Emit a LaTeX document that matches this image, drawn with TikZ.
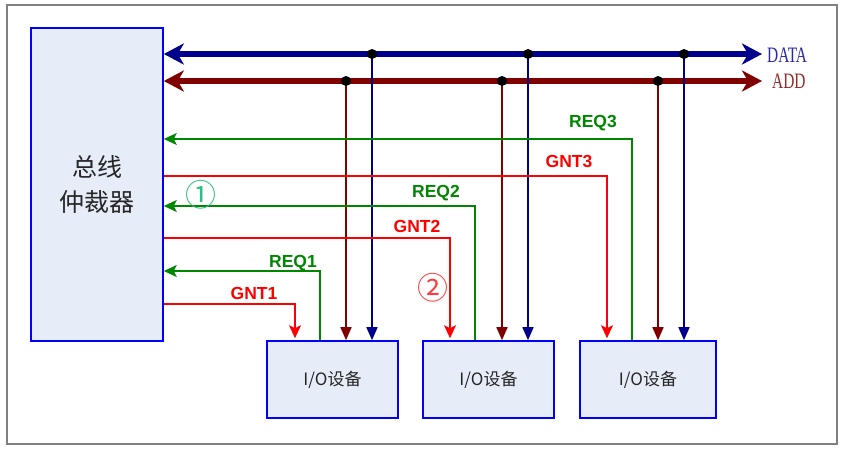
\documentclass[tikz,border=0pt]{standalone}
\usepackage{fontspec}
\usepackage{graphicx}
\setmainfont{Liberation Serif}
\newfontfamily\cjk{Noto Sans CJK SC}
\newfontfamily\arial{Liberation Sans}
\usetikzlibrary{arrows.meta}
\definecolor{busblue}{RGB}{0,0,140}
\definecolor{busred}{RGB}{128,0,0}
\definecolor{reqgreen}{RGB}{0,135,0}
\definecolor{gntred}{RGB}{255,0,0}
\definecolor{boxblue}{RGB}{0,0,255}
\definecolor{boxfill}{RGB}{230,236,248}
\definecolor{framegray}{RGB}{128,128,128}
\begin{document}
\begin{tikzpicture}[x=1pt,y=-1pt,
    every node/.style={inner sep=0pt},
    unit/.style={draw=boxblue, fill=boxfill, line width=1.6pt, text=black!85},
    bus/.style={line width=5.5pt, {Stealth[length=20pt,width=21pt,inset=6pt]}-{Stealth[length=20pt,width=21pt,inset=6pt]}},
    drop/.style={line width=1.6pt, -{Triangle[length=13pt,width=11pt]}},
    gnt/.style={gntred, line width=1.5pt, shorten >=2pt, -{Stealth[length=13pt,width=12pt,inset=3pt]}},
    req/.style={reqgreen, line width=1.5pt, -{Stealth[length=13pt,width=12pt,inset=3pt]}},
    sig/.style={font=\arial\bfseries\fontsize{17.5}{17.5}\selectfont}]
    \useasboundingbox (0,0) rectangle (842,453);
    \draw[framegray, line width=1.5pt] (7,5) rectangle (837,444);
    \node[unit, minimum width=132pt, minimum height=313pt, align=center, font=\cjk\fontsize{25}{35}\selectfont] (arb) at (97,184.5) {总线\\仲裁器};
    \node[unit, minimum width=131pt, minimum height=77pt, font=\cjk\fontsize{17}{17}\selectfont] (io1) at (332.5,379.5) {I/O设备};
    \node[unit, minimum width=131pt, minimum height=77pt, font=\cjk\fontsize{17}{17}\selectfont] (io2) at (488.5,379.5) {I/O设备};
    \node[unit, minimum width=136pt, minimum height=77pt, font=\cjk\fontsize{17}{17}\selectfont] (io3) at (648,379.5) {I/O设备};
    \coordinate (dataend) at (762,54);
    \coordinate (addend) at (762,81);
    \draw[bus, busblue] (arb.east |- dataend) -- (dataend);
    \draw[bus, busred] (arb.east |- addend) -- (addend);
    \node[anchor=west, text={rgb,255:red,40;green,40;blue,170}] (datalbl) at (767,55) {\scalebox{0.7}[1]{\fontsize{22}{22}\selectfont DATA}};
    \node[anchor=west, text={rgb,255:red,150;green,40;blue,40}] (addlbl) at (772,81) {\scalebox{0.7}[1]{\fontsize{22}{22}\selectfont ADD}};
    \coordinate (d1) at (372,54);
    \coordinate (d2) at (528,54);
    \coordinate (d3) at (684,54);
    \coordinate (a1) at (346,81);
    \coordinate (a2) at (502,81);
    \coordinate (a3) at (658,81);
    \draw[drop, busred] (a1) -- (a1 |- io1.north);
    \draw[drop, busblue] (d1) -- (d1 |- io1.north);
    \draw[drop, busred] (a2) -- (a2 |- io2.north);
    \draw[drop, busblue] (d2) -- (d2 |- io2.north);
    \draw[drop, busred] (a3) -- (a3 |- io3.north);
    \draw[drop, busblue] (d3) -- (d3 |- io3.north);
    \fill (d1) circle (5pt) (d2) circle (5pt) (d3) circle (5pt);
    \fill (a1) circle (5pt) (a2) circle (5pt) (a3) circle (5pt);
    \coordinate (r3) at (632,139);
    \coordinate (g3) at (607,176);
    \coordinate (r2) at (475,206);
    \coordinate (g2) at (450,238);
    \coordinate (r1) at (320,271);
    \coordinate (g1) at (295,304);
    \draw[req] (r3 |- io3.north) |- (arb.east |- r3);
    \draw[gnt] (arb.east |- g3) -| (g3 |- io3.north);
    \draw[req] (r2 |- io2.north) |- (arb.east |- r2);
    \draw[gnt] (arb.east |- g2) -| (g2 |- io2.north);
    \draw[req] (r1 |- io1.north) |- (arb.east |- r1);
    \draw[gnt] (arb.east |- g1) -| (g1 |- io1.north);
    \node[sig, text=reqgreen] (req3) at (593,123) {REQ3};
    \node[sig, text=gntred] (gnt3) at (569,161) {GNT3};
    \node[sig, text=reqgreen] (req2) at (436,193) {REQ2};
    \node[sig, text=gntred] (gnt2) at (417,226) {GNT2};
    \node[sig, text=reqgreen] (req1) at (293,263) {REQ1};
    \node[sig, text=gntred] (gnt1) at (254,293) {GNT1};
    \node[font=\cjk\fontsize{31}{31}\selectfont, text={rgb,255:red,50;green,190;blue,130}] (step1) at (201,195) {①};
    \node[font=\cjk\fontsize{31}{31}\selectfont, text={rgb,255:red,255;green,60;blue,60}] (step2) at (433,288) {②};
\end{tikzpicture}
\end{document}
